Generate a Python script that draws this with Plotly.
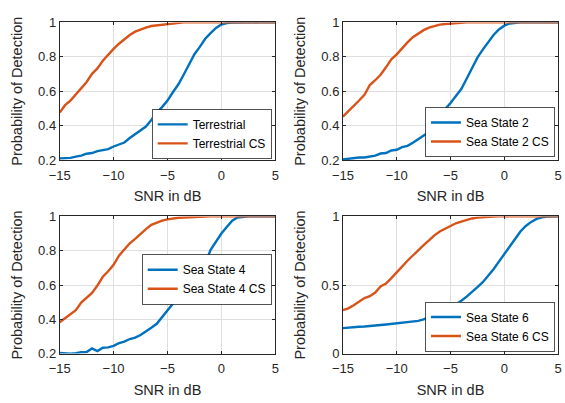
import plotly.graph_objects as go

snr_db = [-15, -14.5, -14, -13.5, -13, -12.5, -12, -11.5, -11, -10.5, -10, -9.5, -9, -8.5,
          -8, -7.5, -7, -6.5, -6, -5.5, -5, -4.5, -4, -3.5, -3, -2.5, -2, -1.5, -1, -0.5,
          0, 0.5, 1, 1.5, 2, 2.5, 3, 3.5, 4, 4.5, 5]

terrestrial = [0.210, 0.211, 0.213, 0.220, 0.226, 0.237, 0.241, 0.252, 0.256, 0.264, 0.279,
               0.290, 0.302, 0.328, 0.352, 0.373, 0.395, 0.433, 0.476, 0.508, 0.546, 0.594,
               0.639, 0.696, 0.758, 0.815, 0.858, 0.905, 0.938, 0.968, 0.988, 0.996, 0.999,
               1, 1, 1, 1, 1, 1, 1, 1]
terrestrial_cs = [0.476, 0.519, 0.546, 0.583, 0.617, 0.654, 0.701, 0.733, 0.777, 0.814, 0.846,
                  0.876, 0.902, 0.927, 0.946, 0.959, 0.970, 0.979, 0.983, 0.987, 0.992, 0.996,
                  0.998, 1, 1, 1, 1, 1, 1, 1, 1, 1, 1, 1, 1, 1, 1, 1, 1, 1, 1]

sea2 = [0.204, 0.209, 0.213, 0.215, 0.215, 0.221, 0.226, 0.238, 0.241, 0.256, 0.260,
        0.275, 0.283, 0.301, 0.320, 0.339, 0.363, 0.401, 0.448, 0.495, 0.532, 0.576,
        0.613, 0.673, 0.730, 0.795, 0.842, 0.884, 0.927, 0.959, 0.981, 0.994, 0.999,
        1, 1, 1, 1, 1, 1, 1, 1]
sea2_cs = [0.452, 0.482, 0.514, 0.546, 0.579, 0.636, 0.664, 0.696, 0.739, 0.786, 0.814,
           0.852, 0.884, 0.914, 0.936, 0.955, 0.970, 0.979, 0.987, 0.991, 0.994, 0.996,
           0.998, 1, 1, 1, 1, 1, 1, 1, 1, 1, 1, 1, 1, 1, 1, 1, 1, 1, 1]

sea4 = [0.204, 0.200, 0.200, 0.202, 0.208, 0.209, 0.230, 0.215, 0.234, 0.236, 0.245,
        0.261, 0.270, 0.285, 0.293, 0.308, 0.327, 0.351, 0.374, 0.412, 0.453, 0.491,
        0.530, 0.570, 0.610, 0.650, 0.690, 0.725, 0.805, 0.856, 0.900, 0.938, 0.975,
        0.994, 0.998, 1, 1, 1, 1, 1, 1]
sea4_cs = [0.383, 0.408, 0.431, 0.453, 0.497, 0.525, 0.554, 0.597, 0.648, 0.680, 0.718,
           0.771, 0.805, 0.843, 0.869, 0.900, 0.926, 0.951, 0.964, 0.975, 0.983, 0.989,
           0.992, 0.994, 0.996, 0.997, 0.998, 1, 1, 1, 1, 1, 1, 1, 1, 1, 1, 1, 1, 1, 1]

sea6 = [0.186, 0.191, 0.193, 0.196, 0.198, 0.203, 0.203, 0.208, 0.212, 0.217, 0.222,
        0.224, 0.229, 0.233, 0.238, 0.250, 0.267, 0.285, 0.297, 0.314, 0.330, 0.355,
        0.385, 0.415, 0.447, 0.485, 0.520, 0.565, 0.615, 0.670, 0.725, 0.785, 0.840,
        0.890, 0.930, 0.960, 0.982, 0.993, 0.998, 1, 1]
sea6_cs = [0.317, 0.330, 0.352, 0.377, 0.405, 0.418, 0.445, 0.490, 0.510, 0.550, 0.595,
           0.640, 0.677, 0.715, 0.755, 0.790, 0.825, 0.862, 0.890, 0.910, 0.928, 0.950,
           0.962, 0.976, 0.985, 0.991, 0.995, 0.997, 0.999, 1, 1, 1, 1, 1, 1, 1, 1, 1, 1, 1, 1]

panels = [
    ("Terrestrial", terrestrial, terrestrial_cs),
    ("Sea State 2", sea2, sea2_cs),
    ("Sea State 4", sea4, sea4_cs),
    ("Sea State 6", sea6, sea6_cs),
]
y_ranges = [[0.2, 1], [0.2, 1], [0.2, 1], [0, 1]]
y_ticks = [[0.2, 0.4, 0.6, 0.8, 1], [0.2, 0.4, 0.6, 0.8, 1], [0.2, 0.4, 0.6, 0.8, 1], [0, 0.5, 1]]
x_ticks = [-15, -10, -5, 0, 5]

W, H = 565, 403
BLUE = "#0072BD"
ORANGE = "#D95319"
INK = "#262626"
GRID = "#DFDFDF"
FONT = "Liberation Sans, Arial, sans-serif"

# axes boxes in pixels: (left, right, top, bottom)
boxes = [(50, 271.5, 16, 159), (341, 562, 16, 159), (50, 271.5, 217.5, 360), (341, 562, 217.5, 360)]
# legend boxes in pixels: (right, bottom)
legend_pos = [(268, 158), (559, 156), (268, 309), (559, 358)]

fig = go.Figure()
layout = dict(
    width=W, height=H, margin=dict(l=0, r=0, t=0, b=0),
    paper_bgcolor="white", plot_bgcolor="white",
    font=dict(family=FONT, color=INK, size=13),
    showlegend=True,
)

for i, (name, base, cs) in enumerate(panels):
    n = i + 1
    xa = "x" if n == 1 else f"x{n}"
    ya = "y" if n == 1 else f"y{n}"
    lg = "legend" if n == 1 else f"legend{n}"
    fig.add_trace(go.Scatter(x=snr_db, y=base, mode="lines", name=name,
                             line=dict(color=BLUE, width=2.4), xaxis=xa, yaxis=ya, legend=lg))
    fig.add_trace(go.Scatter(x=snr_db, y=cs, mode="lines", name=name + " CS",
                             line=dict(color=ORANGE, width=2.4), xaxis=xa, yaxis=ya, legend=lg))
    l, r, t, b = boxes[i]
    axis_common = dict(showline=True, mirror="ticks", linecolor=INK, linewidth=0.8,
                       ticks="inside", ticklen=3, tickcolor=INK, showgrid=True,
                       gridcolor=GRID, gridwidth=0.8, zeroline=False,
                       tickfont=dict(family=FONT, size=13, color=INK))
    title_font = dict(family=FONT, size=14.5, color=INK)
    layout["xaxis" if n == 1 else f"xaxis{n}"] = dict(
        axis_common, domain=[l / W, r / W], anchor=ya, range=[-15, 5],
        tickvals=x_ticks, ticklabelstandoff=3,
        title=dict(text="SNR in dB", font=title_font, standoff=9),
    )
    layout["yaxis" if n == 1 else f"yaxis{n}"] = dict(
        axis_common, domain=[1 - b / H, 1 - t / H], anchor=xa, range=y_ranges[i],
        tickvals=y_ticks[i],
        title=dict(text="Probability of Detection", font=title_font, standoff=12),
    )
    lr, lb = legend_pos[i]
    layout[lg] = dict(
        x=lr / W, y=1 - lb / H, xanchor="right", yanchor="bottom",
        bgcolor="white", bordercolor=INK, borderwidth=0.8,
        font=dict(family=FONT, size=12, color="black"),
        tracegroupgap=0, itemwidth=30,
    )

fig.update_layout(**layout)
fig.write_html("out.html")
